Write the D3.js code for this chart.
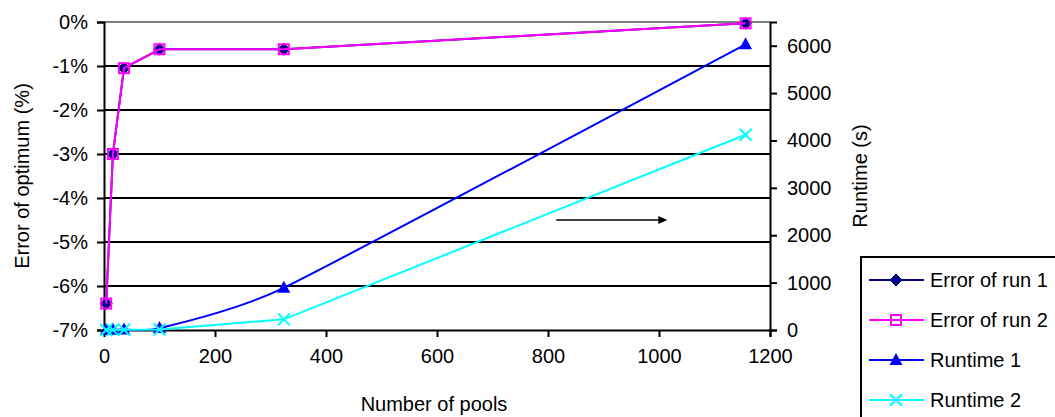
<!DOCTYPE html>
<html>
<head>
<meta charset="utf-8">
<script src="https://cdn.jsdelivr.net/npm/d3@7"></script>
<style>
  html, body { margin: 0; padding: 0; background: #fff; }
  svg { display: block; }
  text { font-family: "Liberation Sans", Arial, sans-serif; fill: #000; }
</style>
</head>
<body>
<svg id="chart" width="1055" height="417"></svg>
<script>
// Number of pools on the x axis
const pools = [4, 16, 36, 100, 324, 1156];
// Error of optimum, percent (left axis)
const errorRun1 = [-6.4, -3.0, -1.05, -0.62, -0.62, -0.03];
const errorRun2 = [-6.4, -3.0, -1.05, -0.62, -0.62, -0.03];
// Runtime in seconds (right axis)
const runtime1 = [2, 4, 8, 40, 890, 6030];
const runtime2 = [1, 2, 4, 10, 225, 4120];

const xTicks = [0, 200, 400, 600, 800, 1000, 1200];
const errTicks = [0, -1, -2, -3, -4, -5, -6, -7];
const runTicks = [0, 1000, 2000, 3000, 4000, 5000, 6000];

const legendLabels = ["Error of run 1", "Error of run 2", "Runtime 1", "Runtime 2"];

// Arrow pointing to the runtime axis, in data units of the left axis
const arrowFrom = [815, -4.5];
const arrowTo = [1015, -4.5];

const svg = d3.select("#chart");
const margin = { left: 104, top: 22, right: 285, bottom: 87 };
const W = 1055, H = 417;
const pw = W - margin.left - margin.right;
const ph = H - margin.top - margin.bottom;

const x = d3.scaleLinear().domain([0, 1200]).range([margin.left, margin.left + pw]);
const yErr = d3.scaleLinear().domain([-7, 0]).range([margin.top + ph, margin.top]);
const yRun = d3.scaleLinear().domain([0, 6500]).range([margin.top + ph, margin.top]);

const FS = 20;
const plain = d3.format("d");

// Horizontal gridlines at each percent step
svg.append("g").selectAll("line")
  .data(errTicks.filter(d => d > -7 && d < 0))
  .join("line")
  .attr("x1", x(0)).attr("x2", x(1200))
  .attr("y1", d => yErr(d)).attr("y2", d => yErr(d))
  .attr("stroke", "#000").attr("stroke-width", 2);

// Plot area top border
svg.append("line")
  .attr("x1", x(0)).attr("x2", x(1200))
  .attr("y1", yErr(0)).attr("y2", yErr(0))
  .attr("stroke", "#808080").attr("stroke-width", 2);

// Left axis
const leftAxis = d3.axisLeft(yErr).tickValues(errTicks)
  .tickFormat(d => d + "%").tickSize(7).tickPadding(9);
const gL = svg.append("g").attr("transform", `translate(${x(0)},0)`).call(leftAxis);

// Bottom axis
const bottomAxis = d3.axisBottom(x).tickValues(xTicks).tickFormat(plain)
  .tickSize(7).tickPadding(12);
const gB = svg.append("g").attr("transform", `translate(0,${yErr(-7)})`).call(bottomAxis);

// Right axis
const rightAxis = d3.axisRight(yRun).tickValues(runTicks).tickFormat(plain)
  .tickSize(7).tickPadding(10);
const gR = svg.append("g").attr("transform", `translate(${x(1200)},0)`).call(rightAxis);

[gL, gB, gR].forEach(g => {
  g.select(".domain").attr("stroke", "#000").attr("stroke-width", 2);
  g.selectAll(".tick line").attr("stroke", "#000").attr("stroke-width", 2);
  g.selectAll(".tick text")
    .attr("font-family", '"Liberation Sans", Arial, sans-serif')
    .attr("font-size", FS).attr("fill", "#000");
});
gB.selectAll(".tick").filter(d => d === 0).select("line").remove();

// Axis titles
svg.append("text")
  .attr("transform", `translate(29,${margin.top + ph / 2}) rotate(-90)`)
  .attr("text-anchor", "middle").attr("font-size", FS)
  .text("Error of optimum (%)");

svg.append("text")
  .attr("transform", `translate(867,${margin.top + ph / 2}) rotate(-90)`)
  .attr("text-anchor", "middle").attr("font-size", FS)
  .text("Runtime (s)");

svg.append("text")
  .attr("x", margin.left + pw / 2 - 3).attr("y", 411)
  .attr("text-anchor", "middle").attr("font-size", FS)
  .text("Number of pools");

// Marker drawing helpers
function diamond(g, cx, cy, color) {
  g.append("path")
    .attr("d", `M${cx},${cy - 6}L${cx + 6},${cy}L${cx},${cy + 6}L${cx - 6},${cy}Z`)
    .attr("fill", color).attr("stroke", color).attr("stroke-width", 1);
}
function square(g, cx, cy, color) {
  g.append("rect").attr("x", cx - 5).attr("y", cy - 5).attr("width", 10).attr("height", 10)
    .attr("fill", "none").attr("stroke", color).attr("stroke-width", 2);
}
function triangle(g, cx, cy, color) {
  g.append("path")
    .attr("d", `M${cx},${cy - 7}L${cx + 6.5},${cy + 5}L${cx - 6.5},${cy + 5}Z`)
    .attr("fill", color);
}
function cross(g, cx, cy, color) {
  g.append("path")
    .attr("d", `M${cx - 6},${cy - 6}L${cx + 6},${cy + 6}M${cx + 6},${cy - 6}L${cx - 6},${cy + 6}`)
    .attr("stroke", color).attr("stroke-width", 2).attr("fill", "none");
}

const series = [
  { values: runtime1, y: yRun, color: "#0000FF", marker: triangle, curve: d3.curveCardinal.tension(0.5) },
  { values: runtime2, y: yRun, color: "#00FFFF", marker: cross, curve: d3.curveLinear },
  { values: errorRun1, y: yErr, color: "#000080", marker: diamond, curve: d3.curveLinear },
  { values: errorRun2, y: yErr, color: "#FF00FF", marker: square, curve: d3.curveLinear }
];

const plot = svg.append("g");
series.forEach(s => {
  const pts = pools.map((p, i) => [x(p), s.y(s.values[i])]);
  const line = d3.line().curve(s.curve);
  plot.append("path").attr("d", line(pts))
    .attr("fill", "none").attr("stroke", s.color).attr("stroke-width", 2);
  const mg = plot.append("g");
  pts.forEach(p => s.marker(mg, p[0], p[1], s.color));
});

// Arrow annotation
const ax1 = x(arrowFrom[0]), ay = yErr(arrowFrom[1]), ax2 = x(arrowTo[0]);
svg.append("line").attr("x1", ax1).attr("x2", ax2 - 8).attr("y1", ay).attr("y2", ay)
  .attr("stroke", "#000").attr("stroke-width", 1.5);
svg.append("path")
  .attr("d", `M${ax2},${ay}L${ax2 - 9},${ay - 4}L${ax2 - 9},${ay + 4}Z`)
  .attr("fill", "#000");

// Legend
const lg = svg.append("g").attr("transform", "translate(861,257)");
lg.append("rect").attr("x", 0).attr("y", 0).attr("width", 300).attr("height", 220)
  .attr("fill", "#fff").attr("stroke", "#000").attr("stroke-width", 2);
const legendOrder = [series[2], series[3], series[0], series[1]];
legendOrder.forEach((s, i) => {
  const cy = 23 + i * 40;
  lg.append("line").attr("x1", 8).attr("x2", 63).attr("y1", cy).attr("y2", cy)
    .attr("stroke", s.color).attr("stroke-width", 2);
  s.marker(lg, 35, cy, s.color);
  lg.append("text").attr("x", 69).attr("y", cy).attr("dy", "0.36em")
    .attr("font-size", FS).text(legendLabels[i]);
});
</script>
</body>
</html>
